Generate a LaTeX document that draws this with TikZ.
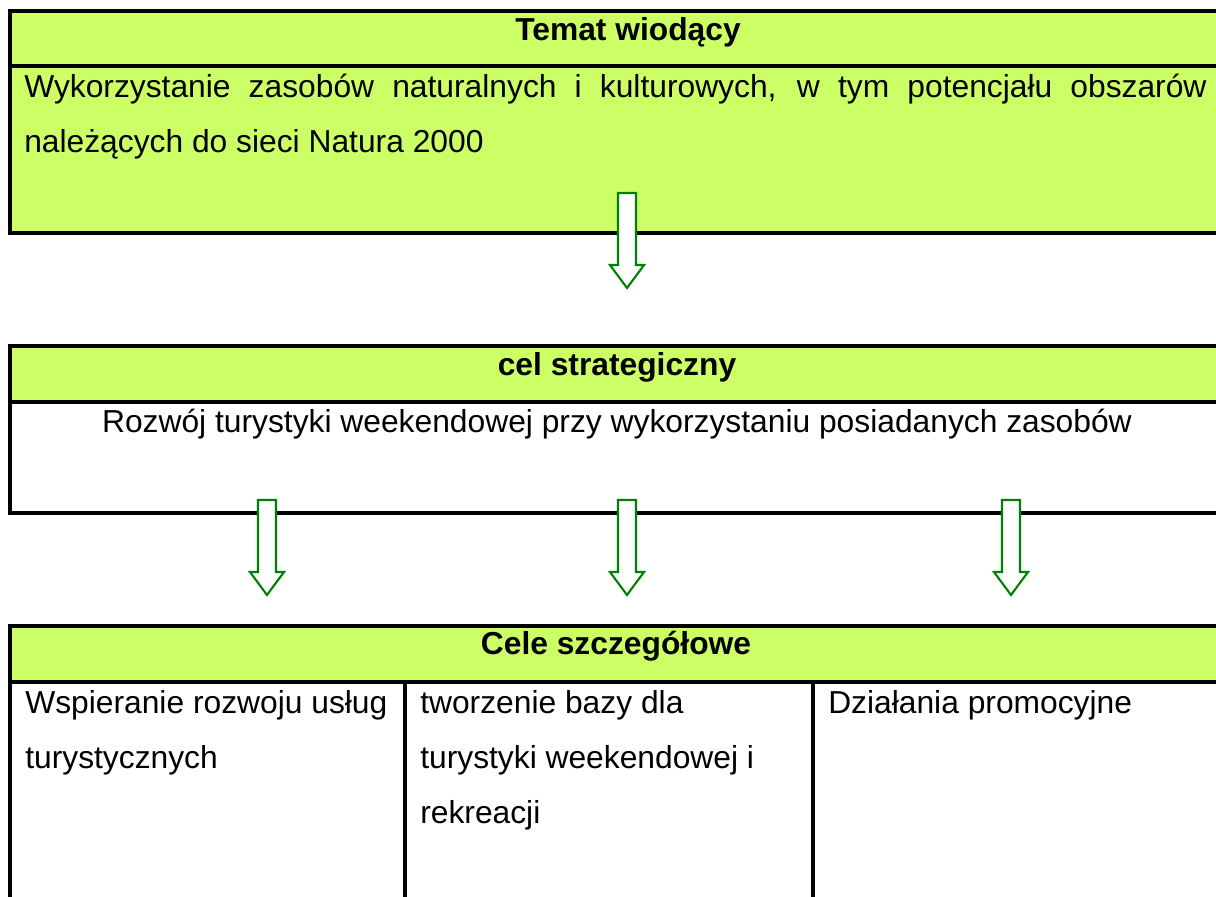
\documentclass[tikz,border=0pt]{standalone}
\usepackage{fontspec}
\setmainfont{Liberation Sans}
\usepackage{tikz}
\usepackage{xcolor}

\definecolor{boxgreen}{RGB}{204,255,102}
\definecolor{arrowgreen}{RGB}{0,128,0}

\begin{document}
\begin{tikzpicture}[x=0.025cm, y=-0.025cm,
    frame/.style={draw=black, line width=2.4pt},
    txt/.style={inner sep=0pt, font=\fontsize{22.6pt}{39pt}\selectfont},
    head/.style={txt, anchor=base, font=\fontsize{22.6pt}{39pt}\selectfont\bfseries},
    blockarrow/.style={draw=arrowgreen, fill=white, line width=1.5pt, line join=miter},
    pics/downarrow/.style={code={
        \draw[blockarrow] (-9,0) -- (9,0) -- (9,72) -- (17,72) -- (0,95) -- (-17,72) -- (-9,72) -- cycle;
    }}]
    \useasboundingbox (0,0) rectangle (1216,896);
    \clip (0,0) rectangle (1216,896);

    % Temat wiodacy
    \fill[boxgreen] (10,11) rectangle (1250,233);
    \draw[frame] (10,11) rectangle (1250,233);
    \draw[frame] (10,66) -- (1250,66);
    \node[head] (temat) at (628,40) {Temat wiodący};
    \node[txt, anchor=base west] (temat1) at (24,97)
        {\makebox[29.55cm][s]{Wykorzystanie zasobów naturalnych i kulturowych, w tym potencjału obszarów}};
    \node[txt, anchor=base west] (temat2) at (24,152) {należących do sieci Natura 2000};

    % Cel strategiczny
    \fill[boxgreen] (10,346) rectangle (1250,402);
    \draw[frame] (10,346) rectangle (1250,513);
    \draw[frame] (10,402) -- (1250,402);
    \node[head] (cel) at (617,375) {cel strategiczny};
    \node[txt, anchor=base] (cel1) at (617,432)
        {Rozwój turystyki weekendowej przy wykorzystaniu posiadanych zasobów};

    % Cele szczegolowe
    \fill[boxgreen] (10,626) rectangle (1250,682);
    \draw[frame] (10,626) rectangle (1250,940);
    \draw[frame] (10,682) -- (1250,682);
    \draw[frame] (405,682) -- (405,940);
    \draw[frame] (813,682) -- (813,940);
    \node[head] (cele) at (616,654) {Cele szczegółowe};
    \node[txt, anchor=base west] (celA1) at (25,713) {Wspieranie rozwoju usług};
    \node[txt, anchor=base west] (celA2) at (25,768) {turystycznych};
    \node[txt, anchor=base west] (celB1) at (420,713) {tworzenie bazy dla};
    \node[txt, anchor=base west] (celB2) at (420,768) {turystyki weekendowej i};
    \node[txt, anchor=base west] (celB3) at (420,823) {rekreacji};
    \node[txt, anchor=base west] (celC1) at (828,713) {Działania promocyjne};

    % Arrows
    \pic at (627,193) {downarrow};
    \pic at (267,500) {downarrow};
    \pic at (627,500) {downarrow};
    \pic at (1011,500) {downarrow};
\end{tikzpicture}
\end{document}
